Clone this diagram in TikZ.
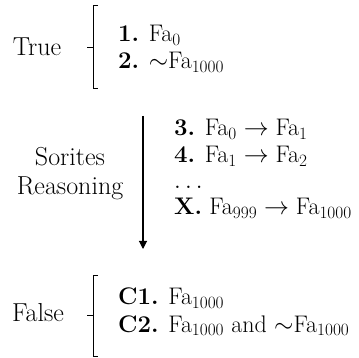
\documentclass[tikz,border=0pt]{standalone}
\usepackage{tikz}
\usetikzlibrary{arrows.meta,positioning}
\tikzset{
  side/.style={font=\fontsize{26}{29}\selectfont, align=center, inner sep=0pt},
  item/.style={font=\fontsize{24}{27}\selectfont, anchor=base west, inner sep=0pt,
               text height=15pt, text depth=3pt},
  brk/.style={draw=black, line width=0.9pt},
  ar/.style={-{Triangle[length=8pt,width=8pt]}, line width=1.1pt},
}

\begin{document}
\begin{tikzpicture}[x=1pt,y=-1pt]
\useasboundingbox (0,0) rectangle (359,358);

% ===================== PREMISES =====================
\node[side] (tr) at (37,47) {True};
\draw[brk] (98,5) -- (93,5) -- (93,88) -- (98,88);
\draw[brk] (93,47) -- (87,47);
\node[item] (p1) at (118,42) {\textbf{1.} Fa$_{0}$};
\node[item] (p2) at (118,69) {\textbf{2.} $\sim$Fa$_{1000}$};

% ===================== SORITES STEPS =====================
\coordinate (arrtop) at (143,116);
\coordinate (arrbot) at (143,249);
\draw[ar] (arrtop) -- (arrbot);
\node[side] (sr) at (70,174) {Sorites\\Reasoning};
\node[item] (p3) at (174,136) {\textbf{3.} Fa$_{0}\rightarrow{}$Fa$_{1}$};
\node[item] (p4) at (174,163) {\textbf{4.} Fa$_{1}\rightarrow{}$Fa$_{2}$};
\node[item] (pd) at (174,189) {$\ldots$};
\node[item] (px) at (174,215) {\textbf{X.} Fa$_{999}\rightarrow{}$Fa$_{1000}$};

% ===================== CONCLUSIONS =====================
\node[side] (fl) at (38,313) {False};
\draw[brk] (98,275) -- (93,275) -- (93,356) -- (98,356);
\draw[brk] (93,315) -- (87,315);
\node[item] (c1) at (118,305) {\textbf{C1.} Fa$_{1000}$};
\node[item] (c2) at (118,332) {\textbf{C2.} Fa$_{1000}$ and $\sim$Fa$_{1000}$};

\end{tikzpicture}
\end{document}
